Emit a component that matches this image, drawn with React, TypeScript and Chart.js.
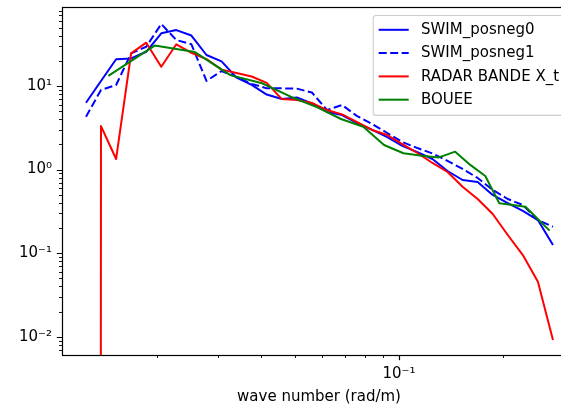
import React, { useEffect, useRef } from 'react';
import { Chart, registerables } from 'chart.js';

Chart.register(...registerables);

const FONT = "'DejaVu Sans', sans-serif";
const FS = 15;

// Wave-number grid of the SWIM and radar spectra (rad/m)
const kSwim = [
  0.01249, 0.0138, 0.01526, 0.01686, 0.01864, 0.0206, 0.02277, 0.02517,
  0.02782, 0.03075, 0.03399, 0.03757, 0.04152, 0.0459, 0.05073, 0.05607,
  0.06198, 0.0685, 0.07572, 0.08369, 0.09251, 0.10225, 0.11302, 0.12492,
  0.13807, 0.15261, 0.16868, 0.18645, 0.20608, 0.22778, 0.25177, 0.27828,
];

// Wave-number grid of the buoy spectrum (rad/m)
const kBuoy = [
  0.01449, 0.01972, 0.02576, 0.0326, 0.04024, 0.04869, 0.05795, 0.06801,
  0.07888, 0.09055, 0.10302, 0.1163, 0.13039, 0.14528, 0.16097, 0.17747,
  0.19478, 0.21289, 0.2318, 0.25152, 0.27204,
];

const swimPosneg0 = [
  6.31, 11.5, 20.9, 21.4, 25.7, 42.7, 46.7, 40.2,
  23.5, 19.7, 12.6, 10.3, 7.91, 6.98, 7.28, 6.18,
  4.9, 4.5, 3.61, 2.98, 2.45, 1.92, 1.62, 1.34,
  0.962, 0.751, 0.711, 0.497, 0.398, 0.32, 0.249, 0.125,
];

const swimPosneg1 = [
  4.3, 8.96, 10.3, 24.6, 29.5, 55.2, 35.5, 31.6,
  11.5, 15.1, 12.8, 10.6, 9.38, 9.38, 9.3, 8.36,
  5.16, 5.93, 4.37, 3.51, 2.74, 2.14, 1.81, 1.56,
  1.27, 1.02, 0.794, 0.571, 0.445, 0.377, 0.249, 0.207,
];

const radarBandeX = [
  0, 3.32, 1.34, 24.6, 33.0, 17.0, 31.6, 25.0,
  21.0, 15.7, 14.3, 13.0, 10.9, 6.98, 6.8, 6.27,
  5.16, 4.58, 3.7, 2.98, 2.59, 2.02, 1.58, 1.2,
  0.936, 0.624, 0.444, 0.294, 0.165, 0.095, 0.0456, 0.00916,
];

const bouee = [
  13.2, 30.5, 25.5, 13.5, 10.8, 7.45, 5.6, 4.03,
  3.26, 1.97, 1.57, 1.46, 1.4, 1.64, 1.13, 0.838,
  0.395, 0.377, 0.36, 0.256, 0.186,
];

const seriesLabels = ['SWIM_posneg0', 'SWIM_posneg1', 'RADAR BANDE X_t', 'BOUEE'];

const xTitle = 'wave number (rad/m)';
const xMin = 0.01065;
const xMax = 0.3243;
const yMin = 0.00605;
const yMax = 88.2;

const xMajorTicks = [0.1];
const xMinorTicks = [0.02, 0.03, 0.04, 0.05, 0.06, 0.07, 0.08, 0.09, 0.2, 0.3];
const yMajorTicks = [0.01, 0.1, 1, 10];
const yMinorTicks = [
  0.007, 0.008, 0.009,
  0.02, 0.03, 0.04, 0.05, 0.06, 0.07, 0.08, 0.09,
  0.2, 0.3, 0.4, 0.5, 0.6, 0.7, 0.8, 0.9,
  2, 3, 4, 5, 6, 7, 8, 9,
  20, 30, 40, 50, 60, 70, 80,
];

const SUP: Record<string, string> = {
  '-': '\u207B', '0': '\u2070', '1': '\u00B9', '2': '\u00B2', '3': '\u00B3',
  '4': '\u2074', '5': '\u2075', '6': '\u2076', '7': '\u2077', '8': '\u2078', '9': '\u2079',
};
const powLabel = (v: number) => {
  const e = Math.round(Math.log10(v));
  return '10' + String(e).split('').map((c) => SUP[c]).join('');
};

// matplotlib clips non-positive values on a log axis to a vanishing value
const clipNonPositive = (v: number) => (v > 0 ? v : 1e-300);
const pts = (xs: number[], ys: number[]) => xs.map((x, i) => ({ x, y: clipNonPositive(ys[i]) }));

const axesFrame = {
  id: 'axesFrame',
  afterDatasetsDraw(chart: any) {
    const { ctx, chartArea: a } = chart;
    const xs = chart.scales.x;
    const ys = chart.scales.y;
    ctx.save();
    ctx.strokeStyle = '#000';
    const drawX = (vals: number[], len: number, lw: number) => {
      ctx.lineWidth = lw;
      ctx.beginPath();
      vals.forEach((v) => {
        if (v < xs.min || v > xs.max) return;
        const p = Math.round(xs.getPixelForValue(v)) + 0.5;
        ctx.moveTo(p, a.bottom);
        ctx.lineTo(p, a.bottom + len);
      });
      ctx.stroke();
    };
    const drawY = (vals: number[], len: number, lw: number) => {
      ctx.lineWidth = lw;
      ctx.beginPath();
      vals.forEach((v) => {
        if (v < ys.min || v > ys.max) return;
        const p = Math.round(ys.getPixelForValue(v)) + 0.5;
        ctx.moveTo(a.left, p);
        ctx.lineTo(a.left - len, p);
      });
      ctx.stroke();
    };
    drawX(xMinorTicks, 3, 0.9);
    drawX(xMajorTicks, 5.2, 1.2);
    drawY(yMinorTicks, 3, 0.9);
    drawY(yMajorTicks, 5.2, 1.2);
    ctx.lineWidth = 1.2;
    ctx.strokeRect(Math.round(a.left) + 0.5, Math.round(a.top) + 0.5,
      Math.round(a.right - a.left), Math.round(a.bottom - a.top));
    ctx.restore();
  },
};

const legendBox = {
  id: 'legendBox',
  afterDraw(chart: any) {
    const { ctx, chartArea: a } = chart;
    const ds = chart.data.datasets;
    const rowH = 23.3;
    const left = a.right - 203.3;
    const top = a.top + 8;
    const h = 14.3 + (ds.length - 1) * rowH + 15.7;
    const right = a.right - 7;
    ctx.save();
    ctx.fillStyle = 'rgba(255,255,255,0.8)';
    ctx.strokeStyle = '#cccccc';
    ctx.lineWidth = 1.1;
    ctx.beginPath();
    (ctx as any).roundRect(left + 0.5, top + 0.5, right - left, h, 3);
    ctx.fill();
    ctx.stroke();
    ctx.font = `${FS}px ${FONT}`;
    ctx.textBaseline = 'middle';
    ctx.textAlign = 'left';
    ds.forEach((d: any, i: number) => {
      const cy = top + 14.8 + i * rowH;
      ctx.strokeStyle = d.borderColor;
      ctx.lineWidth = d.borderWidth;
      ctx.setLineDash(d.borderDash || []);
      ctx.beginPath();
      ctx.moveTo(left + 6, cy);
      ctx.lineTo(left + 36, cy);
      ctx.stroke();
      ctx.setLineDash([]);
      ctx.fillStyle = '#000';
      ctx.fillText(d.label, left + 48.3, cy + 0.5);
    });
    ctx.restore();
  },
};

export default function App() {
  const ref = useRef<HTMLCanvasElement>(null);
  useEffect(() => {
    const common = { pointRadius: 0, borderWidth: 2, fill: false, tension: 0, borderJoinStyle: 'round' as const };
    const chart = new Chart(ref.current as HTMLCanvasElement, {
      type: 'line',
      data: {
        datasets: [
          { ...common, label: seriesLabels[0], data: pts(kSwim, swimPosneg0), borderColor: '#0000ff', order: 3 },
          { ...common, label: seriesLabels[1], data: pts(kSwim, swimPosneg1), borderColor: '#0000ff', borderDash: [8, 3.5], order: 2 },
          { ...common, label: seriesLabels[2], data: pts(kSwim, radarBandeX), borderColor: '#ff0000', order: 1 },
          { ...common, label: seriesLabels[3], data: pts(kBuoy, bouee), borderColor: '#008000', order: 0 },
        ] as any,
      },
      options: {
        responsive: false,
        animation: false,
        devicePixelRatio: 1,
        events: [],
        layout: { padding: { top: 7, right: 24, left: 0, bottom: 0 } },
        plugins: { legend: { display: false }, tooltip: { enabled: false } },
        scales: {
          x: {
            type: 'logarithmic',
            min: xMin,
            max: xMax,
            grid: { display: false, drawTicks: false },
            border: { display: false },
            ticks: {
              autoSkip: false,
              maxRotation: 0,
              padding: 10,
              color: '#000',
              font: { family: FONT, size: FS },
              callback: (v: any) => powLabel(Number(v)),
            },
            title: {
              display: true,
              text: xTitle,
              color: '#000',
              font: { family: FONT, size: FS },
              padding: { top: 0, bottom: 0 },
            },
            afterBuildTicks: (s: any) => { s.ticks = xMajorTicks.map((value) => ({ value, major: true })); },
            afterFit: (s: any) => { s.height = 51; s.paddingLeft = 0; s.paddingRight = 0; },
          },
          y: {
            type: 'logarithmic',
            min: yMin,
            max: yMax,
            grid: { display: false, drawTicks: false },
            border: { display: false },
            ticks: {
              autoSkip: false,
              padding: 10,
              color: '#000',
              font: { family: FONT, size: FS },
              callback: (v: any) => powLabel(Number(v)),
            },
            afterBuildTicks: (s: any) => { s.ticks = yMajorTicks.map((value) => ({ value, major: true })); },
            afterFit: (s: any) => { s.width = 62; s.paddingTop = 0; s.paddingBottom = 0; },
          },
        },
      } as any,
      plugins: [axesFrame, legendBox],
    });
    return () => chart.destroy();
  }, []);
  return (
    <div style={{ position: 'fixed', left: 0, top: 0, width: 561, height: 406, overflow: 'hidden', background: '#fff' }}>
      <canvas ref={ref} width={600} height={406} style={{ display: 'block', width: 600, height: 406 }} />
    </div>
  );
}
